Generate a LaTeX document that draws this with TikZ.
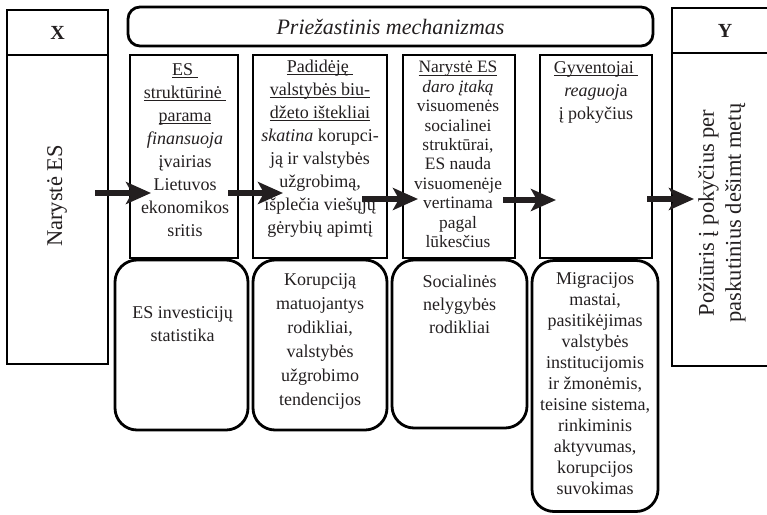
\documentclass[tikz,border=0pt]{standalone}
\usepackage{fontspec}
\setmainfont{Liberation Serif}
\usetikzlibrary{arrows.meta}
\newsavebox\ulxbox
\newcommand\ulx[1]{\sbox\ulxbox{#1}\rlap{\rule[-3pt]{\wd\ulxbox}{1.1pt}}\usebox\ulxbox}
\definecolor{ink}{RGB}{35,31,32}
\begin{document}
\begin{tikzpicture}[x=1pt,y=-1pt,
  sq/.style={draw=black, line width=2.8pt, inner sep=0pt, outer sep=0pt},
  rnd/.style={sq, rounded corners=22pt},
  txt/.style={align=center, text=ink, font=\fontsize{18}{23}\selectfont, inner sep=0pt},
  tight/.style={align=center, text=ink, font=\fontsize{17.4}{19.4}\selectfont, inner sep=0pt},
  big/.style={align=center, text=ink, font=\fontsize{22.5}{27}\selectfont, inner sep=0pt},
  arr/.style={draw=ink, line width=6pt, -{Stealth[length=25pt,width=22pt,inset=6pt]}}]
\useasboundingbox (0,0) rectangle (767,514);

% X column
\node[sq, minimum width=101pt, minimum height=45pt] (xh) at (57.5,32.5) {};
\node[sq, minimum width=101pt, minimum height=309pt] (xm) at (57.5,209.5) {};
\node[txt, font=\fontsize{20}{24}\selectfont\bfseries] (xl) at (xh) {X};
\node[big, rotate=90] (xt) at (57,196) {Narystė ES};

% mechanism header
\node[sq, rounded corners=12pt, minimum width=525pt, minimum height=39pt] (mh) at (390.5,26.5) {};
\node[big, font=\fontsize{22}{26}\selectfont\itshape] (mt) at (mh) {Priežastinis mechanizmas};

% Y column
\node[sq, minimum width=108pt, minimum height=45pt] (yh) at (726,30.5) {};
\node[sq, minimum width=108pt, minimum height=313pt] (ym) at (726,209.5) {};
\node[txt, font=\fontsize{20}{24}\selectfont\bfseries] (yl) at (725,30.5) {Y};
\node[big, rotate=90] (yt) at (722,213) {Požiūris į pokyčius per\\paskutinius dešimt metų};

% mechanism columns
\node[sq, minimum width=108pt, minimum height=203pt] (c1) at (184,156.5) {};
\node[sq, minimum width=134pt, minimum height=203pt] (c2) at (320,156.5) {};
\node[sq, minimum width=112pt, minimum height=203pt] (c3) at (459,156.5) {};
\node[sq, minimum width=112pt, minimum height=203pt] (c4) at (596,156.5) {};

\node[txt] (t1) at (185,150) {\ulx{ES\ }\\\ulx{struktūrinė\ }\\\ulx{parama}\\\textit{finansuoja}\\įvairias\\Lietuvos\\ekonomikos\\sritis};
\node[txt] (t2) at (320,148.5) {\ulx{Padidėję\ }\\\ulx{valstybės biu-}\\\ulx{džeto ištekliai}\\\textit{skatina} korupci-\\ją ir valstybės\\užgrobimą,\\išplečia viešųjų\\gėrybių apimtį};
\node[tight] (t3) at (458,154.5) {\ulx{Narystė ES}\\\textit{daro įtaką}\\visuomenės\\socialinei\\struktūrai,\\ES nauda\\visuomenėje\\vertinama\\pagal\\lūkesčius};
\node[txt] (t4) at (596,92) {\ulx{Gyventojai\ }\\\textit{reaguoj}a\\į pokyčius};

% indicator boxes
\node[rnd, minimum width=133pt, minimum height=170pt] (r1) at (181.5,345) {};
\node[rnd, minimum width=134pt, minimum height=170pt] (r2) at (320,345) {};
\node[rnd, minimum width=135pt, minimum height=168pt] (r3) at (459.5,344) {};
\node[rnd, minimum width=126pt, minimum height=251pt] (r4) at (595,386) {};

\node[txt] (s1) at (182.5,324) {ES investicijų\\statistika};
\node[txt, font=\fontsize{18}{24}\selectfont] (s2) at (320,341) {Korupciją\\matuojantys\\rodikliai,\\valstybės\\užgrobimo\\tendencijos};
\node[txt] (s3) at (459.5,304) {Socialinės\\nelygybės\\rodikliai};
\node[txt, font=\fontsize{18}{21}\selectfont] (s4) at (595,384) {Migracijos\\mastai,\\pasitikėjimas\\valstybės\\institucijomis\\ir žmonėmis,\\teisine sistema,\\rinkiminis\\aktyvumas,\\korupcijos\\suvokimas};

% arrows
\coordinate (a1s) at (95,193);  \coordinate (a1e) at (151,193);
\coordinate (a2s) at (228,193); \coordinate (a2e) at (283,193);
\coordinate (a3s) at (362,199); \coordinate (a3e) at (418,199);
\coordinate (a4s) at (503,200); \coordinate (a4e) at (556,200);
\coordinate (a5s) at (647,199); \coordinate (a5e) at (694,199);
\draw[arr] (a1s) -- (a1e);
\draw[arr] (a2s) -- (a2e);
\draw[arr] (a3s) -- (a3e);
\draw[arr] (a4s) -- (a4e);
\draw[arr] (a5s) -- (a5e);
\end{tikzpicture}
\end{document}
